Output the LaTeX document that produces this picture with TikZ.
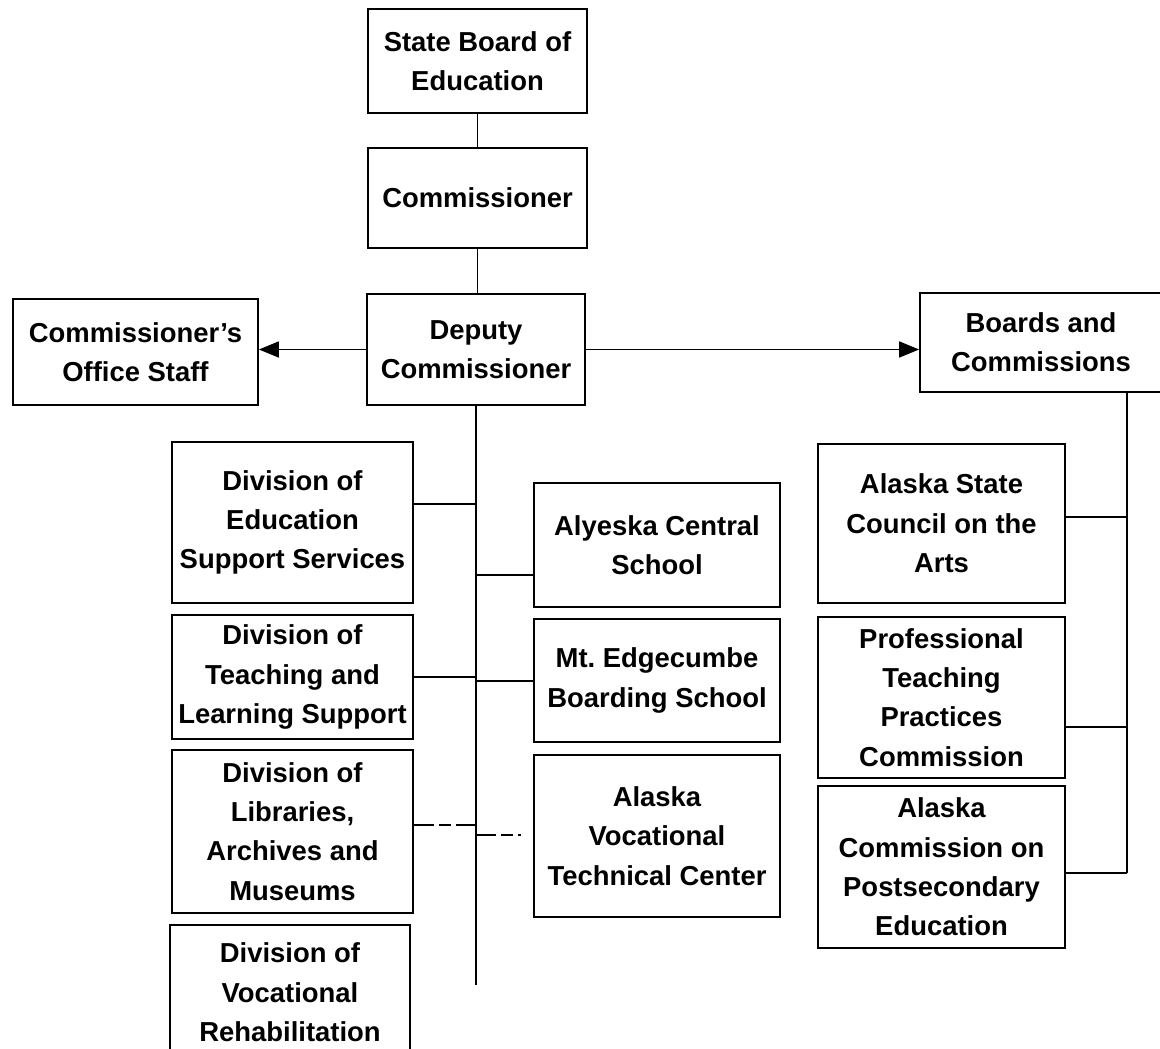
\documentclass[tikz,border=0pt]{standalone}
\usepackage{fontspec}
\setmainfont{Liberation Sans}
\usetikzlibrary{arrows.meta}

\begin{document}
\begin{tikzpicture}[x=0.025cm, y=-0.025cm]
	\tikzstyle{every node}=[align=center, font=\bfseries\fontsize{19.5}{28}\selectfont]
	\tikzstyle{box}=[draw, line width=1.2pt, inner sep=0pt]
	\tikzstyle{link}=[line width=1.2pt]
	\tikzstyle{broken}=[line width=1.2pt, dash pattern=on 14pt off 4pt on 8pt off 4pt]
	\tikzstyle{arr}=[line width=1.2pt, -{Triangle[length=0.5cm, width=0.4cm]}]
	\useasboundingbox (0,0) rectangle (1160,1049);
	% top of the chart
	\node[box, minimum width=5.475cm, minimum height=2.6cm] (sbe) at (477.5,61) {State Board of\\Education};
	\node[box, minimum width=5.475cm, minimum height=2.5cm] (comm) at (477.5,198) {Commissioner};
	\node[box, minimum width=5.45cm, minimum height=2.775cm] (deputy) at (476,349.5) {Deputy\\Commissioner};
	\node[box, minimum width=6.125cm, minimum height=2.65cm] (staff) at (135.5,352) {Commissioner's\\Office Staff};
	\node[box, minimum width=6.05cm, minimum height=2.475cm] (boards) at (1041,342.5) {Boards and\\Commissions};
	% divisions
	\node[box, minimum width=6.025cm, minimum height=4.025cm] (edsupp) at (292.5,522.5) {Division of\\Education\\Support Services};
	\node[box, minimum width=6.025cm, minimum height=3.1cm] (teach) at (292.5,677) {Division of\\Teaching and\\Learning Support};
	\node[box, minimum width=6.025cm, minimum height=4.075cm] (libr) at (292.5,831.5) {Division of\\Libraries,\\Archives and\\Museums};
	\node[box, minimum width=6cm, minimum height=3.375cm] (vocreh) at (290,992.5) {Division of\\Vocational\\Rehabilitation};
	% schools
	\node[box, minimum width=6.15cm, minimum height=3.1cm] (alyeska) at (657,545) {Alyeska Central\\School};
	\node[box, minimum width=6.15cm, minimum height=3.075cm] (mtedge) at (657,680.5) {Mt.\ Edgecumbe\\Boarding School};
	\node[box, minimum width=6.15cm, minimum height=4.05cm] (avtc) at (657,836) {Alaska\\Vocational\\Technical Center};
	% boards and commissions
	\node[box, minimum width=6.175cm, minimum height=3.975cm] (arts) at (941.5,523.5) {Alaska State\\Council on the\\Arts};
	\node[box, minimum width=6.175cm, minimum height=4.025cm] (prof) at (941.5,697.5) {Professional\\Teaching\\Practices\\Commission};
	\node[box, minimum width=6.175cm, minimum height=4.05cm] (postsec) at (941.5,867) {Alaska\\Commission on\\Postsecondary\\Education};
	% connectors
	\draw[link] (sbe.south) -- (sbe.south |- comm.north);
	\draw[link] (comm.south) -- (comm.south |- deputy.north);
	\draw[arr] (deputy.west) -- (deputy.west -| staff.east);
	\draw[arr] (deputy.east) -- (deputy.east -| boards.west);
	\coordinate (trunkend) at (476,985);
	\coordinate (l1) at (476,504);
	\coordinate (l2) at (476,677);
	\coordinate (l3) at (476,825);
	\coordinate (r1) at (476,575);
	\coordinate (r2) at (476,681);
	\coordinate (r3) at (476,835);
	\draw[link] (deputy.south) -- (trunkend);
	\draw[link] (l1) -- (l1 -| edsupp.east);
	\draw[link] (l2) -- (l2 -| teach.east);
	\draw[broken] (l3) -- (l3 -| libr.east);
	\draw[link] (r1) -- (r1 -| alyeska.west);
	\draw[link] (r2) -- (r2 -| mtedge.west);
	\draw[broken, shorten >=0.3cm] (r3) -- (r3 -| avtc.west);
	\coordinate (b1) at (1127,517);
	\coordinate (b2) at (1127,727);
	\coordinate (b3) at (1127,873);
	\draw[link] (boards.south -| b1) -- (b3);
	\draw[link] (b1) -- (b1 -| arts.east);
	\draw[link] (b2) -- (b2 -| prof.east);
	\draw[link] (b3) -- (b3 -| postsec.east);
\end{tikzpicture}
\end{document}
